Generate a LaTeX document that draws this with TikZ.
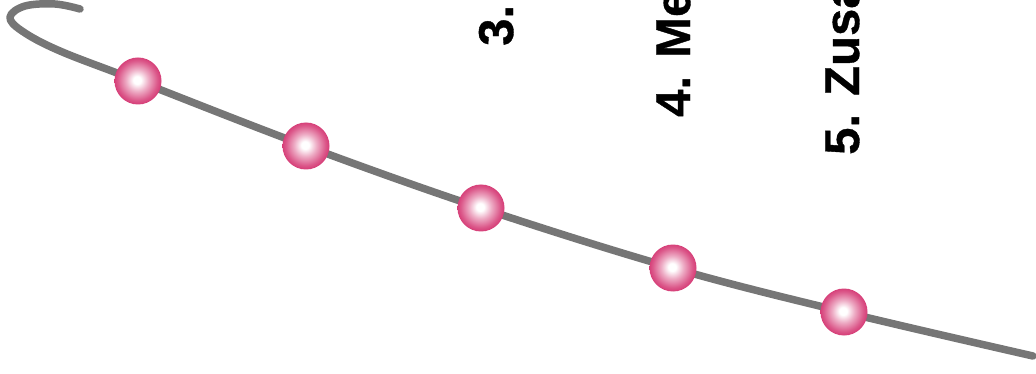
\documentclass[tikz,border=0pt]{standalone}
\usepackage{fontspec}
\setmainfont{Liberation Sans}
\newfontfamily\lblfont{Liberation Sans Bold}[FakeBold=0.8]
\definecolor{pk}{RGB}{208,34,100}
\definecolor{pkd}{RGB}{192,22,84}
\definecolor{linegray}{RGB}{118,118,118}
\pgfdeclareradialshading{pinkball}{\pgfpoint{-1bp}{1bp}}{color(0bp)=(white); color(4bp)=(white); color(12bp)=(pk!38!white); color(21bp)=(pk!75!white); color(29bp)=(pk); color(35bp)=(pkd); color(50bp)=(pkd)}
\tikzset{
  ball/.style={circle, minimum size=47pt, inner sep=0pt, shading=pinkball},
  lbl/.style={anchor=base west, rotate=90, inner sep=0pt, font=\lblfont\fontsize{49}{49}\selectfont},
  track/.style={draw=linegray, line width=7.5pt, line cap=round, line join=round}
}
\begin{document}
\begin{tikzpicture}[x=1pt,y=1pt]
\useasboundingbox (0,0) rectangle (1036,-374);
\clip (0,0) rectangle (1036,-374);
\draw[track] plot[smooth, tension=0.6] coordinates {(80,-9) (55,-4) (25,-6) (10,-17) (22,-31) (60,-51) (138,-81) (306,-146) (481,-208) (673,-268) (844,-312) (1033,-356)};
\node[ball] (b1) at (138,-81) {};
\node[ball] (b2) at (306,-146) {};
\node[ball] (b3) at (481,-208) {};
\node[ball] (b4) at (673,-268) {};
\node[ball] (b5) at (844,-312) {};
\node[lbl] (t3) at (513,-46) {3.};
\node[lbl] (t4) at (690,-117) {4. Me};
\node[lbl] (t5) at (859,-155) {5. Zusa};
\end{tikzpicture}
\end{document}
